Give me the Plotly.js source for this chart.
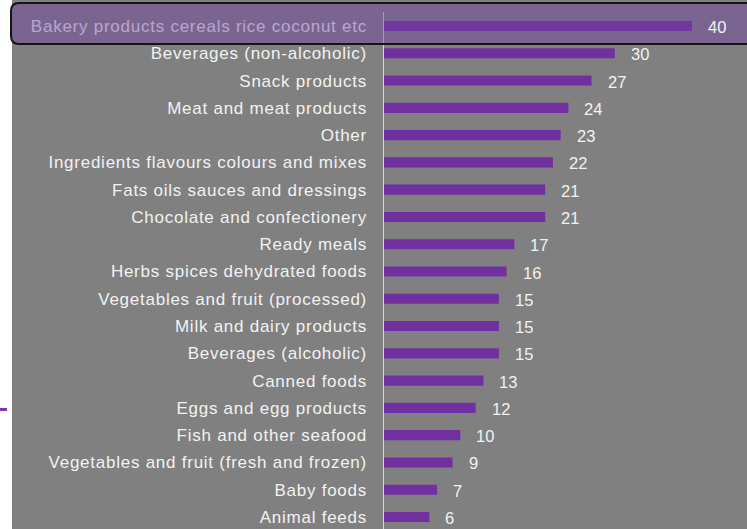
<!DOCTYPE html>
<html>
<head>
<meta charset="utf-8">
<script src="https://cdn.plot.ly/plotly-3.0.1.min.js"></script>
<style>
html,body{margin:0;padding:0;background:#fff;}
#chart{width:747px;height:529px;}
#chart .ytick text{letter-spacing:0.75px !important;}
</style>
</head>
<body>
<div id="chart"></div>
<script>
const categories = [
  "Bakery products cereals rice coconut etc",
  "Beverages (non-alcoholic)",
  "Snack products",
  "Meat and meat products",
  "Other",
  "Ingredients flavours colours and mixes",
  "Fats oils sauces and dressings",
  "Chocolate and confectionery",
  "Ready meals",
  "Herbs spices dehydrated foods",
  "Vegetables and fruit (processed)",
  "Milk and dairy products",
  "Beverages (alcoholic)",
  "Canned foods",
  "Eggs and egg products",
  "Fish and other seafood",
  "Vegetables and fruit (fresh and frozen)",
  "Baby foods",
  "Animal feeds"
];
const values = [40, 30, 27, 24, 23, 22, 21, 21, 17, 16, 15, 15, 15, 13, 12, 10, 9, 7, 6];

const W = 747, H = 529, L = 383;
const PW = W - L;
const X = px => (px - L) / PW;
const Y = py => 1 - py / H;

const idx = categories.map((c, i) => i);

const trace = {
  type: 'bar',
  orientation: 'h',
  x: values,
  y: idx,
  width: 0.37,
  marker: {color: '#7030A0', line: {width: 0}},
  hoverinfo: 'skip'
};

const annotations = values.map((v, i) => ({
  x: v, y: i, xref: 'x', yref: 'y',
  text: String(v), showarrow: false,
  xanchor: 'left', yanchor: 'middle',
  xshift: 14, yshift: -1,
  font: {family: 'Liberation Sans, Arial, sans-serif', size: 16.5, color: '#f2f2f2'}
}));

const r = 8, x0 = 11, x1 = 780, y0 = 3, y1 = 44;
const hlPath = `M ${X(x0 + r)},${Y(y0)} L ${X(x1)},${Y(y0)} L ${X(x1)},${Y(y1)} L ${X(x0 + r)},${Y(y1)} ` +
  `Q ${X(x0)},${Y(y1)} ${X(x0)},${Y(y1 - r)} L ${X(x0)},${Y(y0 + r)} Q ${X(x0)},${Y(y0)} ${X(x0 + r)},${Y(y0)} Z`;

const shapes = [
  {type: 'line', xref: 'x', yref: 'paper', x0: 0, x1: 0, y0: 0, y1: Y(12),
   line: {color: '#d9d9d9', width: 2}, layer: 'above'},
  {type: 'rect', xref: 'paper', yref: 'paper', x0: X(0), x1: X(12), y0: 0, y1: 1,
   fillcolor: '#ffffff', line: {width: 0}, layer: 'above'},
  {type: 'line', xref: 'paper', yref: 'paper', x0: X(0), x1: X(7), y0: Y(409.5), y1: Y(409.5),
   line: {color: '#7a3aaa', width: 3}, layer: 'above'},
  {type: 'path', xref: 'paper', yref: 'paper', path: hlPath,
   fillcolor: 'rgba(114,68,164,0.45)', line: {color: '#141414', width: 2}, layer: 'above'}
];

const layout = {
  width: W, height: H,
  margin: {l: L, r: 0, t: 0, b: 0, pad: 0},
  paper_bgcolor: '#808080',
  plot_bgcolor: '#808080',
  showlegend: false,
  xaxis: {range: [0, PW / 7.725], visible: false, fixedrange: true},
  yaxis: {
    range: [18.44, -0.953],
    tickmode: 'array', tickvals: idx, ticktext: categories,
    showgrid: false, zeroline: false, showline: false, ticks: '',
    ticklabelstandoff: 15,
    tickfont: {family: 'Liberation Sans, Arial, sans-serif', size: 17, color: '#f2f2f2'},
    fixedrange: true
  },
  annotations: annotations,
  shapes: shapes,
  font: {family: 'Liberation Sans, Arial, sans-serif'}
};

Plotly.newPlot('chart', [trace], layout, {displayModeBar: false, staticPlot: true});
</script>
</body>
</html>
